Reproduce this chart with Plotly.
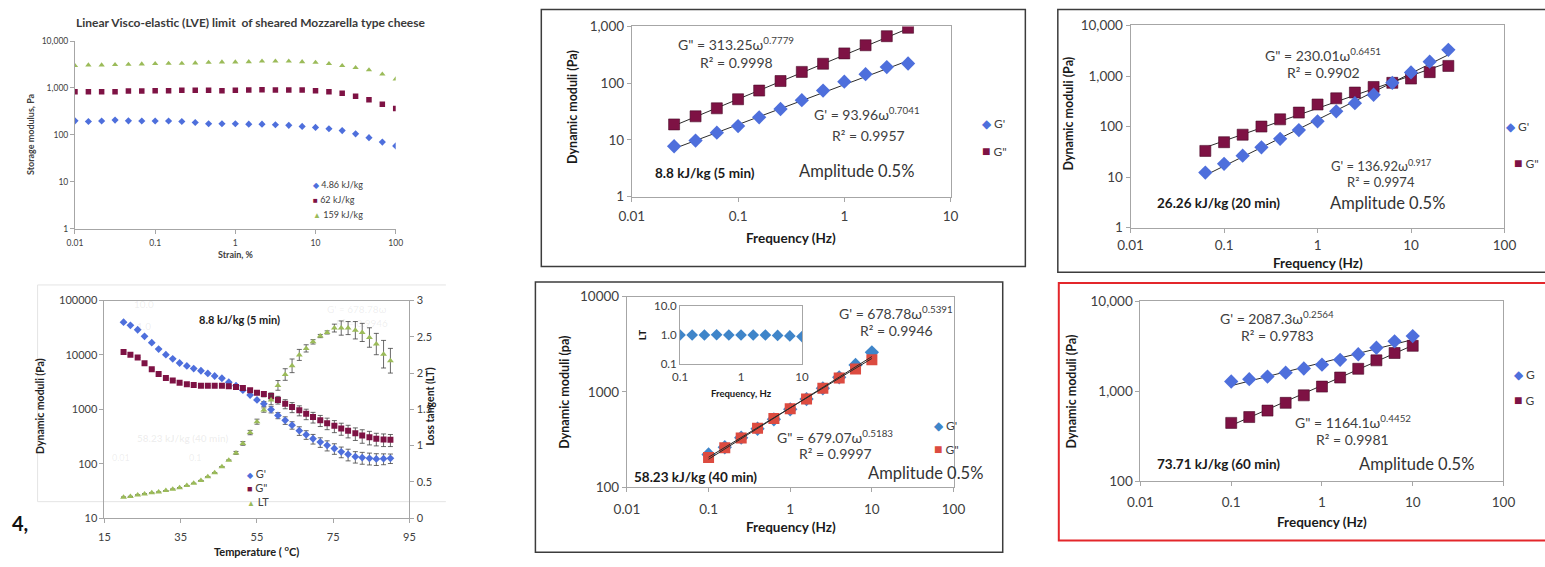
import plotly.graph_objects as go

W, H = 1545, 567
FONT = "Lato"

# ---------------- strain sweep (LVE limit) ----------------
strain_pct = [0.01, 0.0147, 0.0215, 0.0316, 0.0464, 0.0681, 0.1, 0.147, 0.215, 0.316,
              0.464, 0.681, 1, 1.47, 2.15, 3.16, 4.64, 6.81, 10, 14.7, 21.5, 31.6,
              46.4, 68.1, 100]
g_486 = [199, 192, 197, 206, 199, 197, 197, 197, 192, 183, 172, 172, 172, 169, 169,
         164, 159, 151, 144, 135, 123, 105, 87, 70, 58]
g_62 = [832, 832, 832, 832, 859, 859, 873, 873, 887, 887, 887, 873, 887, 902, 916,
        902, 902, 902, 873, 832, 769, 667, 559, 448, 364]
g_159 = [2978, 3076, 3076, 3126, 3177, 3228, 3280, 3333, 3333, 3387, 3498, 3554, 3554,
         3611, 3728, 3728, 3728, 3611, 3498, 3280, 2978, 2710, 2422, 1968, 1549]

# ---------------- temperature sweep, 8.8 kJ/kg ----------------
temp_c = [20.0, 21.8, 23.7, 25.5, 27.4, 29.2, 31.1, 32.9, 34.7, 36.6, 38.4, 40.3, 42.1,
          43.9, 45.8, 47.6, 49.5, 51.3, 53.2, 55.0, 56.8, 58.7, 60.5, 62.4, 64.2, 66.1,
          67.9, 69.7, 71.6, 73.4, 75.3, 77.1, 78.9, 80.8, 82.6, 84.5, 86.3, 88.2, 90.0]
ts_gp = [40000, 35000, 29000, 22000, 16800, 12800, 10100, 8490, 7100, 6280, 5620, 5120,
         4580, 4100, 3730, 3160, 2720, 2250, 1830, 1490, 1265, 990, 773, 629, 512, 405,
         343, 288, 250, 218, 191, 166, 149, 135, 130, 126, 123, 124, 126]
ts_gp_err = [0] * 20 + [130, 130, 100, 100, 80, 73, 62, 58, 50, 46, 42, 37, 36, 32, 32,
                        31, 30, 28, 25]
ts_gpp = [11300, 10100, 8960, 7000, 5470, 4450, 3780, 3390, 3070, 2880, 2800, 2720, 2720,
          2720, 2720, 2650, 2580, 2470, 2250, 2010, 1905, 1757, 1490, 1265, 1100, 960,
          826, 720, 628, 556, 497, 445, 404, 362, 330, 308, 288, 280, 276]
ts_gpp_err = [0] * 20 + [210, 246, 240, 240, 230, 200, 180, 160, 145, 133, 124, 111, 105,
                         94, 92, 86, 75, 73, 69]
ts_lt = [0.29, 0.30, 0.32, 0.335, 0.35, 0.36, 0.38, 0.40, 0.42, 0.45, 0.48, 0.52, 0.57,
         0.625, 0.71, 0.80, 0.90, 1.03, 1.18, 1.33, 1.49, 1.63, 1.83, 1.98, 2.10, 2.25,
         2.34, 2.43, 2.51, 2.56, 2.62, 2.62, 2.62, 2.59, 2.56, 2.49, 2.40, 2.26, 2.17]
ts_lt_err = [0] * 16 + [0.02, 0.025, 0.03, 0.035, 0.03, 0.067, 0.067, 0.08, 0.094, 0.076,
                        0.05, 0.03, 0.022, 0.022, 0.054, 0.098, 0.09, 0.12, 0.125, 0.134,
                        0.147, 0.19, 0.17]

# ---------------- frequency sweeps ----------------
freq_5 = [0.025, 0.0398, 0.0631, 0.1, 0.158, 0.251, 0.398, 0.631, 1, 1.585, 2.51, 3.98]
gp_5 = [7.7, 9.7, 13.4, 17.5, 25, 35, 50, 74, 106, 144, 192, 222]
gpp_5 = [18.7, 26, 36, 52, 74, 109, 158, 220, 335, 466, 673, 948]
fit_gp_5 = (93.96, 0.7041)
fit_gpp_5 = (313.25, 0.7779)

freq_20 = [0.063, 0.1, 0.158, 0.251, 0.398, 0.631, 1, 1.585, 2.51, 3.98, 6.31, 10,
           15.85, 25.1]
gp_20 = [12.3, 18.3, 26.5, 38.9, 57.3, 85.3, 127, 200, 290, 426, 734, 1180, 1920, 3300]
gpp_20 = [33, 49, 69, 100, 139, 189, 273, 362, 471, 607, 733, 891, 1193, 1585]
fit_gp_20 = (136.92, 0.917)
fit_gpp_20 = (230.01, 0.6451)

freq_40 = [0.1, 0.158, 0.251, 0.398, 0.631, 1, 1.585, 2.51, 3.98, 6.31, 10]
gp_40 = [220, 262, 330, 410, 515, 655, 840, 1090, 1420, 1916, 2600]
gpp_40 = [205, 259, 328, 415, 525, 664, 840, 1088, 1400, 1742, 2172]
lt_40 = [1.0, 1.0, 1.0, 1.02, 1.0, 1.0, 1.0, 1.0, 0.97, 0.93, 0.88]
fit_gp_40 = (678.78, 0.5391)
fit_gpp_40 = (679.07, 0.5183)

freq_60 = [0.1, 0.158, 0.251, 0.398, 0.631, 1, 1.585, 2.51, 3.98, 6.31, 10]
gp_60 = [1288, 1365, 1459, 1613, 1796, 1983, 2246, 2588, 3056, 3603, 4118]
gpp_60 = [446, 518, 611, 745, 903, 1130, 1425, 1783, 2213, 2673, 3212]
fit_gp_60 = (2087.3, 0.2564)
fit_gpp_60 = (1164.1, 0.4452)

# colours
BLUE = "#4E6FDC"
MAROON = "#7E1244"
GREEN = "#9BBB59"
BLUE13 = "#3F85C9"
RED13 = "#DC4B40"
AXIS = "#A6A6A6"
TXT = "#404040"


def xdom(a, b):
    return [a / W, b / W]


def ydom(top, bottom):
    return [1 - bottom / H, 1 - top / H]


def trend(freq, fit):
    a, b = fit
    xs = [min(freq), max(freq)]
    return xs, [a * x ** b for x in xs]


fig = go.Figure()


def pts(x, y, ax, sym, size, color, line=None, **kw):
    mk = dict(symbol=sym, size=size, color=color)
    if line:
        mk["line"] = line
    fig.add_trace(go.Scatter(x=x, y=y, mode="markers", marker=mk, xaxis=ax[0],
                             yaxis=ax[1], showlegend=False, **kw))


def fitline(freq, fit, ax):
    xs, ys = trend(freq, fit)
    fig.add_trace(go.Scatter(x=xs, y=ys, mode="lines", line=dict(color="#2b2b2b", width=1),
                             xaxis=ax[0], yaxis=ax[1], showlegend=False))


# strain sweep
pts(strain_pct, g_486, ("x", "y"), "diamond", 5.5, BLUE)
pts(strain_pct, g_62, ("x", "y"), "square", 5.5, MAROON)
pts(strain_pct, g_159, ("x", "y"), "triangle-up", 5.5, GREEN)

# temperature sweep
ebar = dict(type="data", thickness=0.8, width=2.5, color="#444444")
pts(temp_c, ts_gp, ("x2", "y2"), "diamond", 6, BLUE,
    error_y=dict(ebar, array=ts_gp_err, symmetric=True))
pts(temp_c, ts_gpp, ("x2", "y2"), "square", 6, MAROON,
    error_y=dict(ebar, array=ts_gpp_err, symmetric=True))
pts(temp_c, ts_lt, ("x2", "y8"), "triangle-up", 6, GREEN,
    error_y=dict(ebar, array=ts_lt_err, symmetric=True))

# 5 min
sq_line = dict(color="#4a0a28", width=0.6)
fitline(freq_5, fit_gpp_5, ("x3", "y3"))
fitline(freq_5, fit_gp_5, ("x3", "y3"))
pts(freq_5, gpp_5, ("x3", "y3"), "square", 11, MAROON, line=sq_line)
pts(freq_5, gp_5, ("x3", "y3"), "diamond", 11, BLUE)

# 20 min
fitline(freq_20, fit_gpp_20, ("x4", "y4"))
fitline(freq_20, fit_gp_20, ("x4", "y4"))
pts(freq_20, gpp_20, ("x4", "y4"), "square", 11, MAROON, line=sq_line)
pts(freq_20, gp_20, ("x4", "y4"), "diamond", 11, BLUE)

# 40 min
pts(freq_40, gp_40, ("x5", "y5"), "diamond", 11, BLUE13)
pts(freq_40, gpp_40, ("x5", "y5"), "square", 11, RED13)
fitline(freq_40, fit_gp_40, ("x5", "y5"))
fitline(freq_40, fit_gpp_40, ("x5", "y5"))
pts(freq_40, lt_40, ("x6", "y6"), "diamond", 9, BLUE13)

# 60 min
fitline(freq_60, fit_gp_60, ("x7", "y7"))
fitline(freq_60, fit_gpp_60, ("x7", "y7"))
pts(freq_60, gpp_60, ("x7", "y7"), "square", 11, MAROON, line=sq_line)
pts(freq_60, gp_60, ("x7", "y7"), "diamond", 11, BLUE)


def logaxis(dom, rng, vals, texts, anchor, size=13.5, mirror=True, standoff=None, **kw):
    d = dict(type="log", domain=dom, range=rng, tickvals=vals, ticktext=texts,
             anchor=anchor, showline=True, linecolor=AXIS, linewidth=1, mirror=mirror,
             ticks="outside", ticklen=4, tickcolor=AXIS, showgrid=False, zeroline=False,
             tickfont=dict(family=FONT, size=size, color="#404040"))
    if standoff is not None:
        d["ticklabelstandoff"] = standoff
    d.update(kw)
    return d


dec = [0.01, 0.1, 1, 10, 100]
dec_t = ["0.01", "0.1", "1", "10", "100"]

layout = dict(
    width=W, height=H, margin=dict(l=0, r=0, t=0, b=0),
    paper_bgcolor="white", plot_bgcolor="white",
    font=dict(family=FONT, color=TXT),
    xaxis=logaxis(xdom(63, 389), [-2, 2], dec, dec_t, "y", size=8.5, mirror=False,
                  standoff=2),
    yaxis=logaxis(ydom(34, 227), [0, 4], [1, 10, 100, 1000, 10000],
                  ["1", "10", "100", "1,000", "10,000"], "x", size=8.5, mirror=False),
    xaxis2=dict(domain=xdom(93, 403), range=[15, 95], tickvals=[15, 35, 55, 75, 95],
                anchor="y2", showline=True, linecolor=AXIS, mirror=True, ticks="outside",
                ticklen=4, tickcolor=AXIS, showgrid=False, zeroline=False,
                ticklabelstandoff=5,
                tickfont=dict(family=FONT, size=11, color="#404040")),
    yaxis2=logaxis(ydom(301, 525), [1, 5], [10, 100, 1000, 10000, 100000],
                   ["10", "100", "1000", "10000", "100000"], "x2", size=11, mirror=False),
    yaxis8=dict(overlaying="y2", side="right", anchor="x2", range=[0, 3],
                tickvals=[0, 0.5, 1, 1.5, 2, 2.5, 3],
                ticktext=["0", "0.5", "1", "1.5", "2", "2.5", "3"],
                showline=True, linecolor=AXIS, ticks="outside", ticklen=4, tickcolor=AXIS,
                showgrid=False, zeroline=False,
                tickfont=dict(family=FONT, size=11, color="#404040")),
    xaxis3=logaxis(xdom(629, 953), [-2, 1], dec[:4], dec_t[:4], "y3", standoff=3),
    yaxis3=logaxis(ydom(19, 194), [0, 3], [1, 10, 100, 1000],
                   ["1", "10", "100", "1,000"], "x3"),
    xaxis4=logaxis(xdom(1136, 1516), [-2, 2], dec, dec_t, "y4", standoff=1),
    yaxis4=logaxis(ydom(18, 226), [0, 4], [1, 10, 100, 1000, 10000],
                   ["1", "10", "100", "1,000", "10,000"], "x4"),
    xaxis5=logaxis(xdom(624, 956), [-2, 2], dec, dec_t, "y5", standoff=6),
    yaxis5=logaxis(ydom(297, 493), [2, 4], [100, 1000, 10000],
                   ["100", "1000", "10000"], "x5"),
    xaxis6=logaxis(xdom(678, 802), [-1, 1], [0.1, 1, 10], ["0.1", "1", "10"], "y6",
                   size=11.5, ticks="", standoff=3),
    yaxis6=logaxis(ydom(307, 366), [-1, 1], [0.1, 1, 10], ["0.1", "1.0", "10.0"], "x6",
                   size=11.5, ticks=""),
    xaxis7=logaxis(xdom(1146, 1515), [-2, 2], dec, dec_t, "y7", standoff=5),
    yaxis7=logaxis(ydom(302, 487), [2, 4], [100, 1000, 10000],
                   ["100", "1,000", "10,000"], "x7"),
)

anns = []


def ann(px, py, text, size, bold=False, color=TXT, xanchor="center", angle=0):
    if bold:
        text = "<b>" + text + "</b>"
    anns.append(dict(x=px / W, y=1 - py / H, xref="paper", yref="paper", text=text,
                     showarrow=False, xanchor=xanchor, yanchor="middle", textangle=angle,
                     font=dict(family=FONT, size=size, color=color)))


def legend_row(px, py, glyph, color, label, size, gsize):
    ann(px, py, f"<span style='color:{color};font-size:{gsize}px'>{glyph}</span> {label}",
        size, xanchor="left")


# strain sweep text
ann(242, 15, "Linear Visco-elastic (LVE) limit  of sheared Mozzarella type cheese", 12,
    bold=True, color="#3a3a3a")
ann(227, 254, "Strain, %", 9, bold=True)
ann(18, 130, "Storage modulus, Pa", 9, bold=True, angle=-90)
legend_row(303, 181.5, "◆", BLUE, "4.86 kJ/kg", 9, 8)
legend_row(303, 197, "■", MAROON, "62 kJ/kg", 9, 8)
legend_row(303, 212.5, "▲", GREEN, "159 kJ/kg", 9, 8)

# temperature sweep text (faint image of another chart behind it)
ghost = "rgba(120,120,120,0.13)"
ann(133, 305, "10.0", 10, color=ghost)
ann(133, 327, "1.0", 10, color=ghost)
ann(172, 443, "58.23 kJ/kg (40 min)", 10, bold=True, color=ghost)
ann(110, 463, "0.01", 9, color=ghost)
ann(185, 463, "0.1", 9, color=ghost)
ann(350, 310, "G' = 678.78ω", 10, color=ghost)
ann(355, 324, "R² = 0.9946", 10, color=ghost)
ann(230, 321, "8.8 kJ/kg (5 min)", 11, bold=True, color="#202020")
ann(248, 558, "Temperature ( <sup>o</sup>C)", 11, bold=True, color="#202020")
ann(28, 410, "Dynamic moduli (Pa)", 10.5, bold=True, color="#202020", angle=-90)
ann(424, 410, "Loss tangent (LT)", 10.5, bold=True, color="#202020", angle=-90)
legend_row(236, 479, "◆", BLUE, "G'", 11, 8)
legend_row(236, 493, "■", MAROON, 'G"', 11, 9)
legend_row(236, 508, "▲", GREEN, "LT", 11, 8)
ann(7, 530, "4,", 20, bold=True, color="#111111")

# 5 min
ann(735, 37, "G\" = 313.25ω<sup>0.7779</sup>", 14)
ann(735, 56, "R² = 0.9998", 14)
ann(868, 109, "G' = 93.96ω<sup>0.7041</sup>", 14)
ann(870, 131, "R² = 0.9957", 14)
ann(703, 170, "8.8 kJ/kg (5 min)", 13.5, bold=True, color="#1a1a1a")
ann(857, 168, "Amplitude 0.5%", 16.5, color="#333333")
ann(791, 237, "Frequency (Hz)", 13.5, bold=True, color="#1a1a1a")
ann(568, 102, "Dynamic moduli (Pa)", 12.5, bold=True, color="#1a1a1a", angle=-90)
legend_row(983, 119, "◆", BLUE, "G'", 12, 12)
legend_row(983, 147, "■", MAROON, 'G"', 12, 14)

# 20 min
ann(1332, 48, "G\" = 230.01ω<sup>0.6451</sup>", 14)
ann(1332, 66, "R² = 0.9902", 14)
ann(1390, 162, "G' = 136.92ω<sup>0.917</sup>", 13)
ann(1390, 179, "R² = 0.9974", 13)
ann(1225, 201, "26.26 kJ/kg (20 min)", 13.5, bold=True, color="#1a1a1a")
ann(1397, 201, "Amplitude 0.5%", 16.5, color="#333333")
ann(1326, 262, "Frequency (Hz)", 13.5, bold=True, color="#1a1a1a")
ann(1073, 109, "Dynamic moduli (Pa)", 12.5, bold=True, color="#1a1a1a", angle=-90)
legend_row(1516, 122, "◆", BLUE, "G'", 12, 12)
legend_row(1524, 159, "■", MAROON, 'G"', 12, 14)

# 40 min
ann(898, 313, "G' = 678.78ω<sup>0.5391</sup>", 14)
ann(898, 332, "R² = 0.9946", 14)
ann(836, 441, "G\" = 679.07ω<sup>0.5183</sup>", 14)
ann(836, 458, "R² = 0.9997", 14)
ann(694, 483, "58.23 kJ/kg (40 min)", 13.5, bold=True, color="#1a1a1a")
ann(928, 479, "Amplitude 0.5%", 16.5, color="#333333")
ann(791, 534, "Frequency (Hz)", 13.5, bold=True, color="#1a1a1a")
ann(561, 395, "Dynamic moduli (pa)", 12.5, bold=True, color="#1a1a1a", angle=-90)
ann(640, 337, "LT", 10, bold=True, color="#1a1a1a", angle=-90)
ann(740, 397, "Frequency, Hz", 9.5, bold=True, color="#1a1a1a")
legend_row(934, 430, "◆", BLUE13, "G'", 12, 12)
legend_row(934, 453, "■", RED13, 'G"', 12, 14)

# 60 min
ann(1285, 318, "G' = 2087.3ω<sup>0.2564</sup>", 14)
ann(1285, 337, "R² = 0.9783", 14)
ann(1362, 425, "G\" = 1164.1ω<sup>0.4452</sup>", 14)
ann(1362, 444, "R² = 0.9981", 14)
ann(1225, 469, "73.71 kJ/kg (60 min)", 13.5, bold=True, color="#1a1a1a")
ann(1427, 469, "Amplitude 0.5%", 16.5, color="#333333")
ann(1331, 529, "Frequency (Hz)", 13.5, bold=True, color="#1a1a1a")
ann(1076, 395, "Dynamic moduli (Pa)", 12.5, bold=True, color="#1a1a1a", angle=-90)
legend_row(1524, 377, "◆", BLUE, "G", 12, 12)
legend_row(1524, 403, "■", MAROON, "G", 12, 14)

layout["annotations"] = anns


def box(x0, y0, x1, y1, color, width):
    return dict(type="rect", xref="paper", yref="paper", x0=x0 / W, x1=x1 / W,
                y0=1 - y1 / H, y1=1 - y0 / H, line=dict(color=color, width=width),
                fillcolor="rgba(0,0,0,0)", layer="below")


layout["shapes"] = [
    box(537, 1.5, 1029, 266, "#3c3c3c", 1.5),
    box(1062, 1.5, 1560, 272, "#3c3c3c", 1.5),
    box(531, 282, 1006, 560, "#3c3c3c", 1.5),
    box(1063, 283, 1560, 548, "#E3262B", 2),
    dict(type="path", xref="paper", yref="paper",
         path=f"M {440 / W} {1 - 285 / H} L {25 / W} {1 - 285 / H} "
              f"L {25 / W} {1 - 508 / H} L {440 / W} {1 - 508 / H}",
         line=dict(color="#e4e4e4", width=1), layer="below"),
]

fig.update_layout(**layout)
fig.write_html("out.html")
